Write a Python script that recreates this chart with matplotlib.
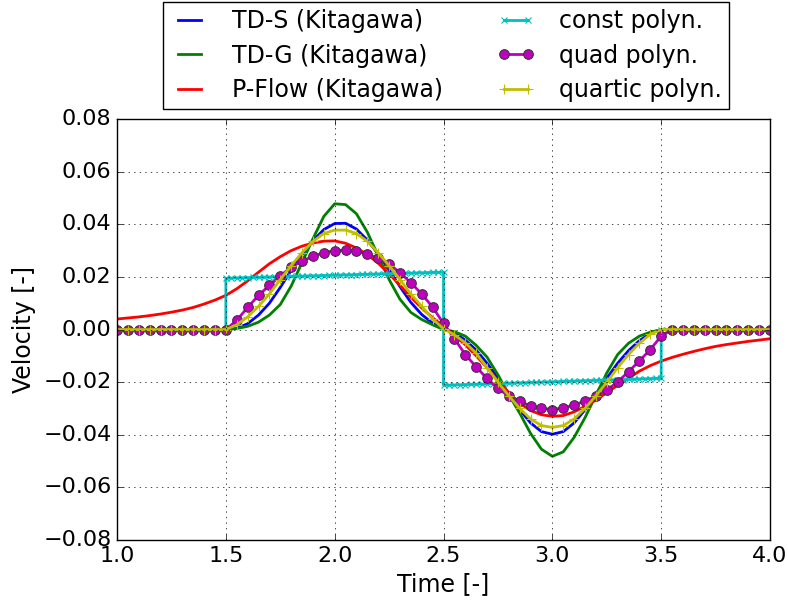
import numpy as np
import matplotlib
matplotlib.use("Agg")
import matplotlib.pyplot as plt

plt.style.use("classic")
plt.rcParams["font.size"] = 17
plt.rcParams["xtick.labelsize"] = 16
plt.rcParams["ytick.labelsize"] = 16

# sampling grid of the solvers (every 0.05)
t = np.linspace(1.0, 4.0, 61)

td_s = [0.0] * 11 + [
    0.0005, 0.0022, 0.0055, 0.0100, 0.0160, 0.0225, 0.0285, 0.0338, 0.0380, 0.0403,
    0.0404, 0.0382, 0.0340, 0.0287, 0.0227, 0.0163, 0.0103, 0.0057, 0.0024, 0.0002,
    -0.0013, -0.0040, -0.0078, -0.0128, -0.0185, -0.0245, -0.0305, -0.0355, -0.0388, -0.0398,
    -0.0388, -0.0355, -0.0305, -0.0245, -0.0185, -0.0128, -0.0080, -0.0042, -0.0015, 0.0,
] + [0.0] * 10

td_g = [0.0] * 11 + [
    0.0004, 0.0012, 0.0028, 0.0055, 0.0095, 0.0165, 0.0255, 0.0345, 0.0430, 0.0478,
    0.0475, 0.0440, 0.0370, 0.0280, 0.0190, 0.0115, 0.0065, 0.0038, 0.0018, 0.0,
    -0.0008, -0.0025, -0.0060, -0.0105, -0.0172, -0.0248, -0.0318, -0.0395, -0.0455, -0.0482,
    -0.0465, -0.0410, -0.0335, -0.0250, -0.0165, -0.0095, -0.0052, -0.0025, -0.0010, 0.0,
] + [0.0] * 10

p_flow = [
    0.0040, 0.0044, 0.0048, 0.0053, 0.0059, 0.0066, 0.0074, 0.0084, 0.0097, 0.0112,
    0.0130, 0.0155, 0.0185, 0.0218, 0.0250, 0.0277, 0.0300, 0.0317, 0.0329, 0.0336,
    0.0337, 0.0328, 0.0310, 0.0285, 0.0252, 0.0212, 0.0168, 0.0123, 0.0082, 0.0045,
    0.0012, -0.0022, -0.0058, -0.0100, -0.0145, -0.0195, -0.0240, -0.0280, -0.0308, -0.0324,
    -0.0330, -0.0327, -0.0313, -0.0292, -0.0268, -0.0240, -0.0212, -0.0185, -0.0158, -0.0137,
    -0.0120, -0.0106, -0.0094, -0.0083, -0.0073, -0.0064, -0.0057, -0.0051, -0.0045, -0.0040,
    -0.0035,
]

quad = [0.0] * 11 + [
    0.0035, 0.0084, 0.0130, 0.0168, 0.0203, 0.0238, 0.0260, 0.0278, 0.0292, 0.0300,
    0.0302, 0.0298, 0.0287, 0.0271, 0.0249, 0.0216, 0.0178, 0.0135, 0.0085, 0.0023,
    -0.0035, -0.0095, -0.0142, -0.0186, -0.0224, -0.0253, -0.0272, -0.0291, -0.0300, -0.0304,
    -0.0298, -0.0287, -0.0272, -0.0253, -0.0230, -0.0199, -0.0160, -0.0119, -0.0076, -0.0025,
] + [0.0] * 10

quartic = [0.0] * 11 + [
    0.0018, 0.0048, 0.0088, 0.0135, 0.0190, 0.0243, 0.0292, 0.0335, 0.0365, 0.0378,
    0.0378, 0.0365, 0.0335, 0.0292, 0.0243, 0.0190, 0.0135, 0.0088, 0.0040, 0.0003,
    -0.0020, -0.0050, -0.0090, -0.0145, -0.0200, -0.0252, -0.0300, -0.0340, -0.0365, -0.0372,
    -0.0365, -0.0340, -0.0300, -0.0252, -0.0200, -0.0145, -0.0095, -0.0052, -0.0018, 0.0,
] + [0.0] * 10

# const polyn. sampled every 0.025, element ends repeated at the jumps
t_const = np.concatenate([np.linspace(1.0, 1.5, 21), np.linspace(1.5, 2.5, 41),
                          np.linspace(2.5, 3.5, 41), np.linspace(3.5, 4.0, 21)])
const = [0.0] * 21 + [
    0.01950, 0.01956, 0.01962, 0.01967, 0.01973, 0.01979, 0.01985, 0.01990, 0.01996, 0.02002,
    0.02008, 0.02013, 0.02019, 0.02025, 0.02031, 0.02036, 0.02042, 0.02048, 0.02054, 0.02059,
    0.02065, 0.02071, 0.02077, 0.02082, 0.02088, 0.02094, 0.02100, 0.02105, 0.02111, 0.02117,
    0.02123, 0.02128, 0.02134, 0.02140, 0.02146, 0.02151, 0.02157, 0.02163, 0.02169, 0.02174,
    0.02180,
] + [
    -0.02120, -0.02113, -0.02107, -0.02100, -0.02093, -0.02086, -0.02080, -0.02073, -0.02066, -0.02060,
    -0.02053, -0.02046, -0.02040, -0.02033, -0.02026, -0.02020, -0.02013, -0.02006, -0.02000, -0.01993,
    -0.01986, -0.01980, -0.01973, -0.01966, -0.01960, -0.01953, -0.01946, -0.01940, -0.01933, -0.01926,
    -0.01920, -0.01913, -0.01906, -0.01900, -0.01893, -0.01886, -0.01880, -0.01873, -0.01866, -0.01860,
    -0.01853,
] + [0.0] * 21

fig = plt.figure(figsize=(7.88, 6.03), dpi=100)
ax = fig.add_axes([0.1485, 0.1045, 0.8287, 0.698])

ax.plot(t, td_s, "b-", lw=2, label="TD-S (Kitagawa)")
ax.plot(t, td_g, "g-", lw=2, label="TD-G (Kitagawa)")
ax.plot(t, p_flow, "r-", lw=2, label="P-Flow (Kitagawa)")
ax.plot(t_const, const, "c-", marker="x", ms=5, mew=0.8, lw=2, label="const polyn.")
ax.plot(t, quad, "m-", marker="o", ms=7, mec="#333333", mew=0.7, lw=2, label="quad polyn.")
ax.plot(t, quartic, "y-", marker="+", ms=7, mew=0.8, lw=2, label="quartic polyn.")

ax.set_xlim(1.0, 4.0)
ax.set_ylim(-0.08, 0.08)
ax.set_xticks(np.arange(1.0, 4.01, 0.5))
ax.set_yticks(np.arange(-0.08, 0.081, 0.02))
ax.grid(True)
ax.set_xlabel("Time [-]")
ax.set_ylabel("Velocity [-]")

ax.legend(loc="upper center", bbox_to_anchor=(446 / 788, 1 - 2 / 603),
          bbox_transform=fig.transFigure, borderaxespad=0.0, ncol=2, numpoints=2,
          fontsize=17, handlelength=1.6, handletextpad=1.0,
          columnspacing=2.3, labelspacing=0.45, borderpad=0.3)

fig.savefig("out.png", dpi=100)
